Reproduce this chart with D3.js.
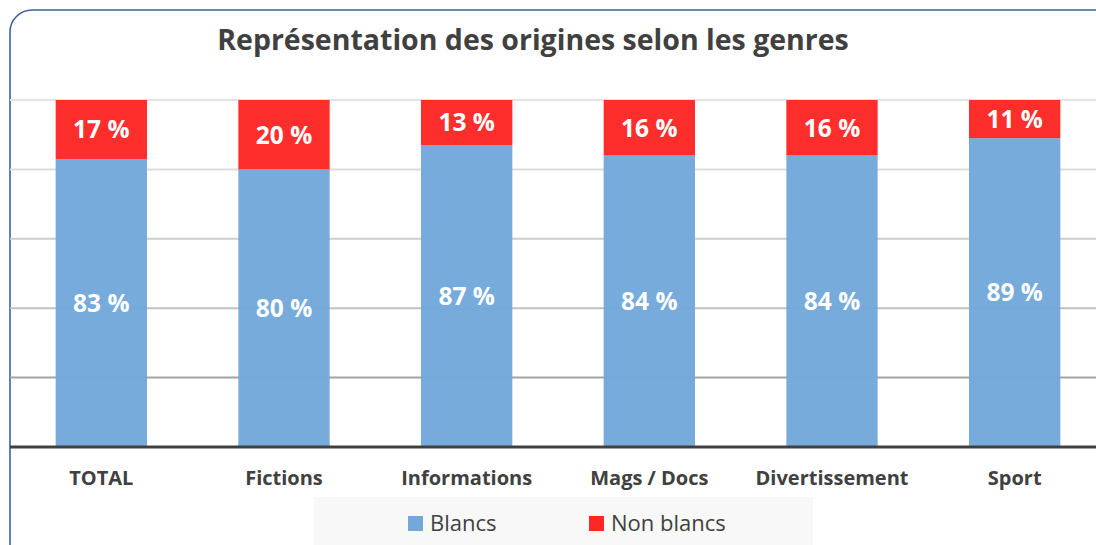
<!DOCTYPE html>
<html>
<head>
<meta charset="utf-8">
<script src="https://cdn.jsdelivr.net/npm/d3@7"></script>
<style>
  body { margin:0; background:#fff; }
  svg { display:block; font-family: "Open Sans", "Noto Sans", sans-serif; }
</style>
</head>
<body>
<svg id="chart"></svg>
<script>
var genres = ["TOTAL", "Fictions", "Informations", "Mags / Docs", "Divertissement", "Sport"];
var blancs = [83, 80, 87, 84, 84, 89];
var nonBlancs = [17, 20, 13, 16, 16, 11];
var seriesNames = ["Blancs", "Non blancs"];
var seriesColors = ["#72a8da", "#fe2726"];
var gridTicks = [20, 40, 60, 80, 100];
var gridColors = ["#a3a3a3", "#c0c0c0", "#cdcdcd", "#dcdcdc", "#e2e2e2"];

var screen = {width:1096, height:545};
var margins = {top:100, left:10};
var graph = {width:1096, height:347};

var svg = d3.select("#chart")
    .attr("width", screen.width)
    .attr("height", screen.height);

// rounded frame
svg.append("rect")
    .attr("x", 10).attr("y", 10)
    .attr("width", 1110).attr("height", 560)
    .attr("rx", 22)
    .attr("fill", "#fff")
    .attr("stroke", "#3b639a")
    .attr("stroke-width", 1.6);

svg.append("text")
    .text("Représentation des origines selon les genres")
    .attr("x", 533).attr("y", 50)
    .attr("text-anchor", "middle")
    .attr("font-size", 28.5)
    .attr("font-weight", "bold")
    .attr("fill", "#404040");

var xScale = d3.scaleBand()
    .domain(genres)
    .range([0, graph.width])
    .paddingInner(0.5)
    .paddingOuter(0.25);
var yScale = d3.scaleLinear()
    .domain([0, 100])
    .range([graph.height, 0]);

var g = svg.append("g")
    .attr("transform", "translate(" + margins.left + "," + margins.top + ")");

// gridlines
g.selectAll(".grid")
    .data(gridTicks)
    .enter()
    .append("line")
    .attr("x1", 0).attr("x2", graph.width)
    .attr("y1", function(d){ return yScale(d); })
    .attr("y2", function(d){ return yScale(d); })
    .attr("stroke", function(d, i){ return gridColors[i]; })
    .attr("stroke-width", 2);

var rows = genres.map(function(gn, i){
    return {genre: gn, blancs: blancs[i], nonBlancs: nonBlancs[i]};
});
var stack = d3.stack().keys(["blancs", "nonBlancs"])(rows);

var layers = g.selectAll(".layer")
    .data(stack)
    .enter()
    .append("g")
    .attr("fill", function(d, i){ return seriesColors[i]; });

layers.selectAll("rect")
    .data(function(d){ return d; })
    .enter()
    .append("rect")
    .attr("x", function(d){ return xScale(d.data.genre); })
    .attr("y", function(d){ return yScale(d[1]); })
    .attr("width", xScale.bandwidth())
    .attr("height", function(d){ return yScale(d[0]) - yScale(d[1]); })
    .attr("fill-opacity", 0.97);

layers.selectAll("text")
    .data(function(d){ return d; })
    .enter()
    .append("text")
    .text(function(d){ return (d[1] - d[0]) + " %"; })
    .attr("x", function(d){ return xScale(d.data.genre) + xScale.bandwidth()/2; })
    .attr("y", function(d){ return (yScale(d[0]) + yScale(d[1]))/2; })
    .attr("dy", "0.36em")
    .attr("text-anchor", "middle")
    .attr("fill", "#fff")
    .attr("font-size", 24.5)
    .attr("font-weight", "bold");

// baseline
g.append("line")
    .attr("x1", 0).attr("x2", graph.width)
    .attr("y1", yScale(0)).attr("y2", yScale(0))
    .attr("stroke", "#404040")
    .attr("stroke-width", 3);

// category axis
var xAxis = d3.axisBottom(xScale).tickSize(0).tickPadding(0);
var ax = g.append("g")
    .attr("transform", "translate(0," + (graph.height + 38) + ")")
    .call(xAxis);
ax.select(".domain").remove();
ax.selectAll("text")
    .attr("dy", 0)
    .attr("font-family", "'Open Sans', 'Noto Sans', sans-serif")
    .attr("font-size", 20)
    .attr("font-weight", "bold")
    .attr("fill", "#404040");

// legend
var legend = svg.append("g");
legend.append("rect")
    .attr("x", 314).attr("y", 497)
    .attr("width", 499).attr("height", 48)
    .attr("fill", "#f8f8f8");
var legendX = [408, 589];
var item = legend.selectAll(".item")
    .data(seriesNames)
    .enter()
    .append("g")
    .attr("transform", function(d, i){ return "translate(" + legendX[i] + ",516)"; });
item.append("rect")
    .attr("width", 15).attr("height", 15)
    .attr("fill", function(d, i){ return seriesColors[i]; });
item.append("text")
    .text(function(d){ return d; })
    .attr("x", 22).attr("y", 15)
    .attr("font-size", 22)
    .attr("fill", "#404040");
</script>
</body>
</html>
